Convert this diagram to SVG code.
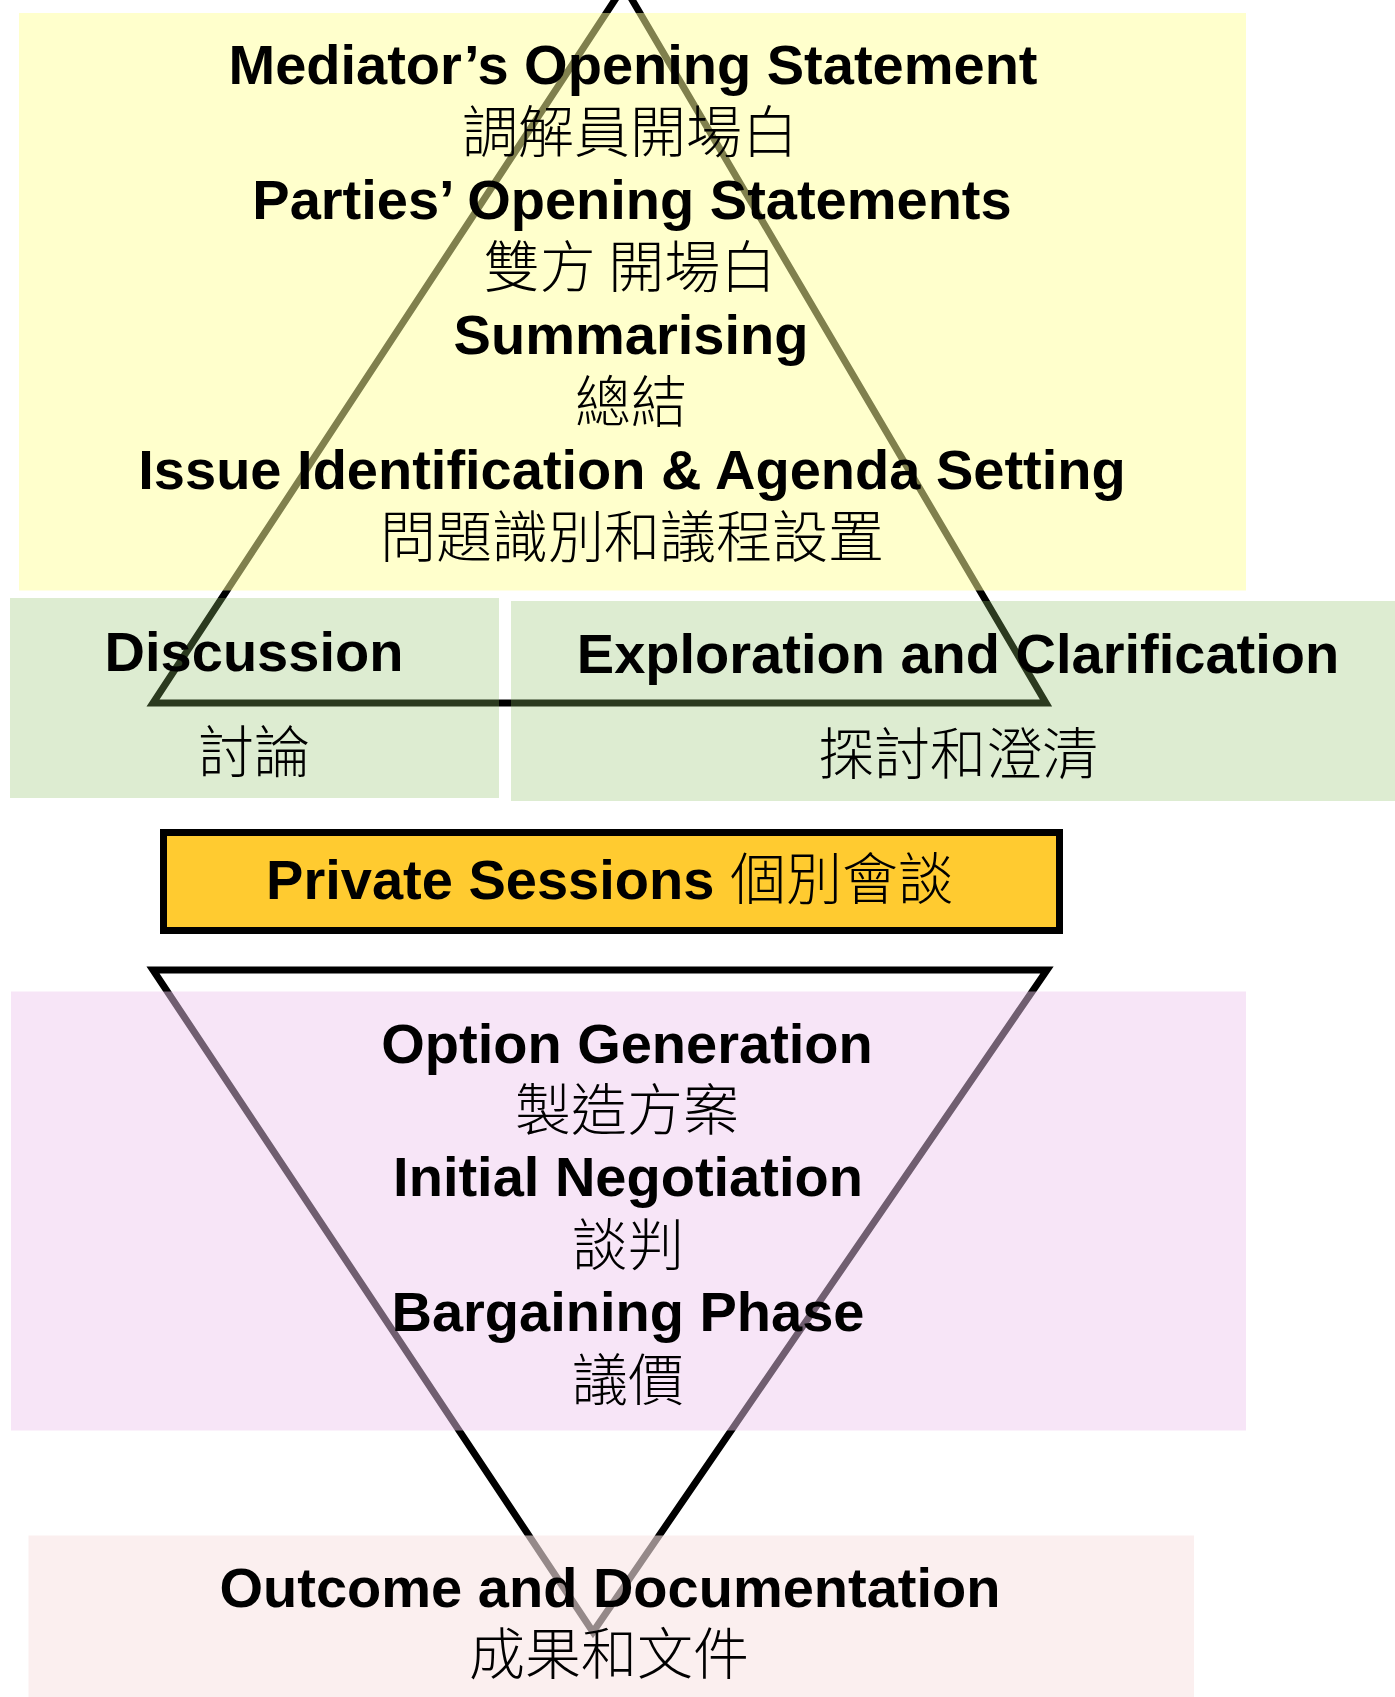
<svg xmlns="http://www.w3.org/2000/svg" width="1395" height="1697" viewBox="0 0 1395 1697">
<style>
  .en { font-family: "Liberation Sans", Arial, sans-serif; font-weight: bold; font-size: 56px; fill: #000; }
  .zh { font-family: "Noto Sans CJK TC", "Noto Sans CJK SC", sans-serif; font-weight: 300; font-size: 56px; fill: #000; }
  .tri { fill: none; stroke: #000; stroke-width: 7; stroke-linejoin: miter; }
</style>
<rect x="0" y="0" width="1395" height="1697" fill="#fff"/>
<g id="connectors">
  <polygon class="tri" points="153,703 1046,703 624,-14"/>
  <polygon class="tri" points="153,970 1047,970 593,1632"/>
</g>
<g id="stage-opening">
  <rect x="19" y="13" width="1227" height="577.5" fill="#FFFF99" fill-opacity="0.5"/>
  <g text-anchor="middle">
    <text class="en" x="633" y="84">Mediator’s Opening Statement</text>
    <text class="zh" x="630" y="152">調解員開場白</text>
    <text class="en" x="632" y="219">Parties’ Opening Statements</text>
    <text class="zh" x="630" y="287">雙方 開場白</text>
    <text class="en" x="631" y="354">Summarising</text>
    <text class="zh" x="631" y="422">總結</text>
    <text class="en" x="632" y="489">Issue Identification &amp; Agenda Setting</text>
    <text class="zh" x="632" y="557">問題識別和議程設置</text>
  </g>
</g>
<g id="stage-discussion">
  <rect x="10" y="598" width="489" height="200" fill="#8FC167" fill-opacity="0.3"/>
  <text class="en" x="254" y="671" text-anchor="middle">Discussion</text>
  <text class="zh" x="254" y="772" text-anchor="middle">討論</text>
</g>
<g id="stage-exploration">
  <rect x="511" y="601" width="884" height="200" fill="#8FC167" fill-opacity="0.3"/>
  <text class="en" x="958" y="673" text-anchor="middle">Exploration and Clarification</text>
  <text class="zh" x="958" y="774" text-anchor="middle">探討和澄清</text>
</g>
<g id="stage-private">
  <rect x="163.5" y="832.5" width="896" height="98" fill="#FFCB30" stroke="#000" stroke-width="7"/>
  <text x="610" y="899" text-anchor="middle"><tspan class="en">Private Sessions </tspan><tspan class="zh">個別會談</tspan></text>
</g>
<g id="stage-negotiation">
  <rect x="11" y="991.5" width="1235" height="439" fill="#EEC8EE" fill-opacity="0.47"/>
  <g text-anchor="middle">
    <text class="en" x="627" y="1063">Option Generation</text>
    <text class="zh" x="627" y="1130">製造方案</text>
    <text class="en" x="628" y="1196">Initial Negotiation</text>
    <text class="zh" x="628" y="1265">談判</text>
    <text class="en" x="628" y="1331">Bargaining Phase</text>
    <text class="zh" x="628" y="1400">議價</text>
  </g>
</g>
<g id="stage-outcome">
  <rect x="28.5" y="1535.5" width="1165.5" height="162" fill="#F8E4E4" fill-opacity="0.6"/>
  <text class="en" x="610" y="1607" text-anchor="middle">Outcome and Documentation</text>
  <text class="zh" x="609" y="1674" text-anchor="middle">成果和文件</text>
</g>
</svg>
